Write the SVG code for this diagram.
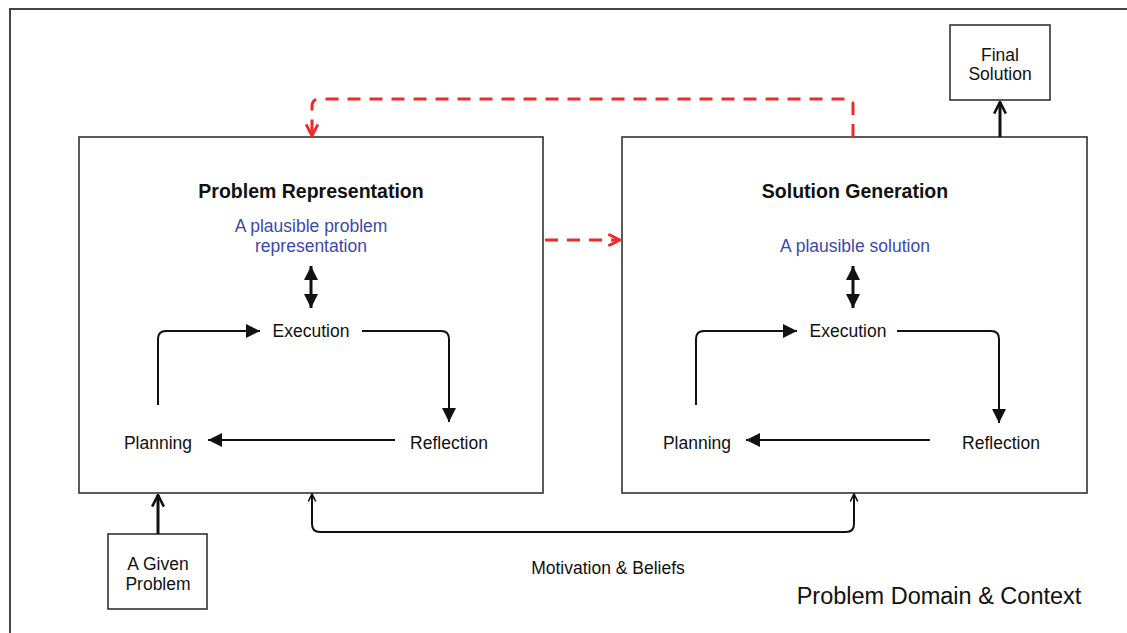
<svg xmlns="http://www.w3.org/2000/svg" width="1127" height="633" viewBox="0 0 1127 633">
<style>
text{font-family:"Liberation Sans",Arial,sans-serif;fill:#111;text-anchor:middle}
.t{font-size:17.5px}
.b{font-size:19.5px;font-weight:bold}
.blue{fill:#3b4aa8;font-size:17.5px}
.box{fill:#fff;stroke:#333;stroke-width:1.6}
.thin{fill:none;stroke:#111;stroke-width:2}
.thick{fill:none;stroke:#111;stroke-width:3}
.red{fill:none;stroke:#ee2b2b;stroke-width:3;stroke-dasharray:13 9}
</style>
<defs>
<marker id="fa" viewBox="0 0 10 10" refX="10" refY="5" markerWidth="14" markerHeight="14" markerUnits="userSpaceOnUse" orient="auto-start-reverse"><path d="M0,0 L10,5 L0,10 z" fill="#111"/></marker>
<marker id="oa" viewBox="0 0 12 12" refX="11" refY="6" markerWidth="14" markerHeight="14" markerUnits="userSpaceOnUse" orient="auto"><path d="M1,1 L11,6 L1,11" fill="none" stroke="#111" stroke-width="2.2"/></marker>
<marker id="os" viewBox="0 0 12 12" refX="11" refY="6" markerWidth="9" markerHeight="9" markerUnits="userSpaceOnUse" orient="auto-start-reverse"><path d="M1,1 L11,6 L1,11" fill="none" stroke="#111" stroke-width="2.2"/></marker>
<marker id="ro" viewBox="0 0 12 12" refX="11" refY="6" markerWidth="14" markerHeight="14" markerUnits="userSpaceOnUse" orient="auto"><path d="M1,1 L11,6 L1,11" fill="none" stroke="#ee2b2b" stroke-width="2.4"/></marker>
</defs>
<rect width="1127" height="633" fill="#fff"/>
<rect x="10" y="9" width="1140" height="650" fill="none" stroke="#444" stroke-width="2"/>
<text class="t" x="939" y="604" style="font-size:23.5px">Problem Domain &amp; Context</text>
<text class="t" x="608" y="574">Motivation &amp; Beliefs</text>

<g id="problem-representation">
<rect class="box" x="79" y="137" width="464" height="356"/>
<text class="b" x="311" y="198">Problem Representation</text>
<text class="blue" x="311" y="232">A plausible problem</text>
<text class="blue" x="311" y="252">representation</text>
</g>
<g id="pr-execution"><text class="t" x="311" y="337">Execution</text></g>
<g id="pr-reflection"><text class="t" x="449" y="449">Reflection</text></g>
<g id="pr-planning"><text class="t" x="158" y="449">Planning</text></g>

<g id="solution-generation">
<rect class="box" x="622" y="137" width="465" height="356"/>
<text class="b" x="855" y="198">Solution Generation</text>
<text class="blue" x="855" y="252">A plausible solution</text>
</g>
<g id="sg-execution"><text class="t" x="848" y="337">Execution</text></g>
<g id="sg-reflection"><text class="t" x="1001" y="449">Reflection</text></g>
<g id="sg-planning"><text class="t" x="697" y="449">Planning</text></g>

<g id="final-solution">
<rect class="box" x="950" y="25" width="100" height="75"/>
<text class="t" x="1000" y="61">Final</text>
<text class="t" x="1000" y="80">Solution</text>
</g>
<g id="given-problem">
<rect class="box" x="108" y="534" width="99" height="75"/>
<text class="t" x="158" y="570">A Given</text>
<text class="t" x="158" y="590">Problem</text>
</g>

<g id="connectors">
<path class="thick" d="M158,534 V495" marker-end="url(#oa)"/>
<path class="thick" d="M1000,137 V102" marker-end="url(#oa)"/>
<path class="thick" d="M311,266 V308" marker-start="url(#fa)" marker-end="url(#fa)"/>
<path class="thick" d="M853,266 V308" marker-start="url(#fa)" marker-end="url(#fa)"/>
<path class="thin" d="M158,405 V339 Q158,331 166,331 H260" marker-end="url(#fa)"/>
<path class="thin" d="M362,331 H441 Q449,331 449,339 V422" marker-end="url(#fa)"/>
<path class="thin" d="M395,440 H208" marker-end="url(#fa)"/>
<path class="thin" d="M696,405 V339 Q696,331 704,331 H797" marker-end="url(#fa)"/>
<path class="thin" d="M897,331 H991 Q999,331 999,339 V423" marker-end="url(#fa)"/>
<path class="thin" d="M930,440 H746" marker-end="url(#fa)"/>
<path class="thin" d="M312,494 V524 Q312,532 320,532 H846 Q854,532 854,524 V494" marker-start="url(#os)" marker-end="url(#os)"/>
<path class="red" d="M853,137 V104 Q853,99 846,99 H319 Q312,99 312,107 V136" marker-end="url(#ro)"/>
<path class="red" d="M545,240 H620" marker-end="url(#ro)"/>
</g>
</svg>
